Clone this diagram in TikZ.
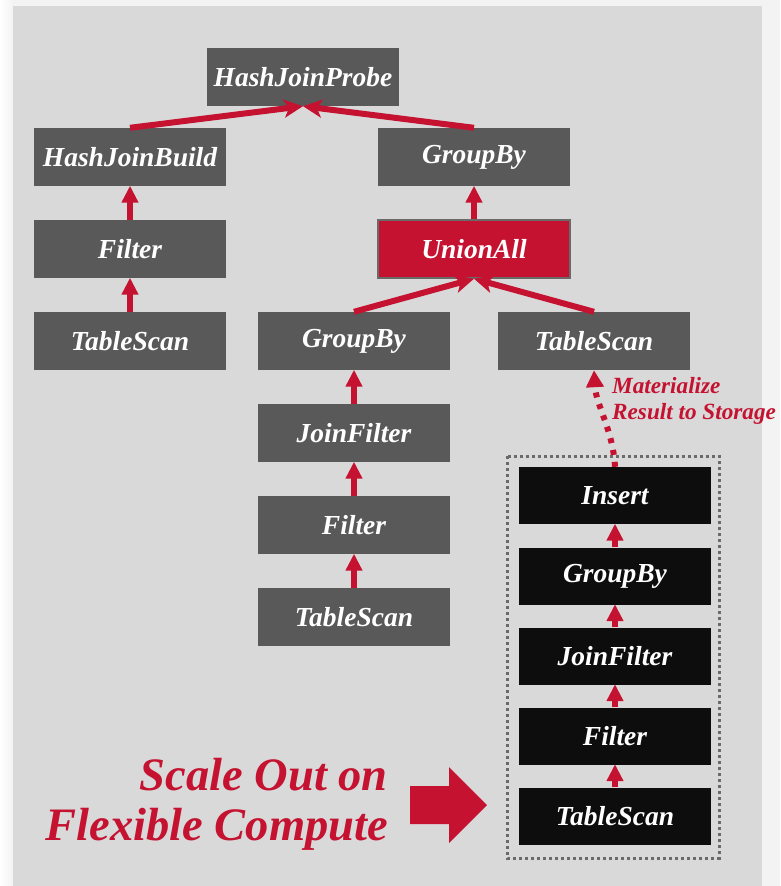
\documentclass[tikz,border=0pt]{standalone}
\usepackage{fontspec}
\setmainfont{Liberation Serif}
\usetikzlibrary{arrows.meta}
\definecolor{panel}{HTML}{D9D9D9}
\definecolor{opgray}{HTML}{595959}
\definecolor{accent}{HTML}{C41230}
\definecolor{opblack}{HTML}{0D0D0D}
\definecolor{outer}{HTML}{F3F3F3}
\definecolor{boxline}{HTML}{6A6A6A}
\begin{document}
\begin{tikzpicture}[x=1pt,y=-1pt,
  opbox/.style={minimum width=192pt, minimum height=58pt, inner sep=0pt, text=white,
    font=\fontsize{27.5}{30}\selectfont\bfseries\itshape, fill=opgray},
  unionbox/.style={opbox, fill=accent, draw=boxline, line width=1.5pt},
  blackbox/.style={opbox, fill=opblack, minimum height=57pt},
  uparrow/.style={draw=accent, line width=5.5pt, -{Triangle[length=17pt,width=16pt]}, shorten >=-0.5pt},
  diagarrow/.style={draw=accent, line width=6pt, -{Stealth[length=19pt,width=18pt,inset=5pt]}},
  dotarrow/.style={draw=accent, line width=6pt, dash pattern=on 5pt off 7pt, -{Triangle[length=17pt,width=17pt]}},
  matlabel/.style={text=accent, inner sep=0pt, font=\fontsize{23.2}{25}\selectfont\bfseries\itshape},
  bigtext/.style={text=accent, inner sep=0pt, font=\fontsize{46.5}{50}\selectfont\bfseries\itshape},
  dotbox/.style={draw=boxline, line width=3pt, dash pattern=on 3pt off 3pt}
]
\useasboundingbox (0,0) rectangle (780,886);
\fill[outer] (0,0) rectangle (780,886);
\shade[left color=white, right color=outer] (0,0) rectangle (13,886);
\fill[panel] (13,6) rectangle (762,886);

% top tree
\node[opbox] (hjp) at (303,77) {HashJoinProbe};
\node[opbox] (hjb) at (130,157) {HashJoinBuild};
\node[opbox] (gbtop) at (474,157) {GroupBy};
\node[opbox] (filtL) at (130,249) {Filter};
\node[unionbox] (ua) at (474,249) {UnionAll};
\node[opbox] (tsL) at (130,341) {TableScan};
\node[opbox] (gbmid) at (354,341) {GroupBy};
\node[opbox] (tsR) at (594,341) {TableScan};
\node[opbox] (jf) at (354,433) {JoinFilter};
\node[opbox] (filtM) at (354,525) {Filter};
\node[opbox] (tsM) at (354,617) {TableScan};

% black pipeline
\node[blackbox] (ins) at (615,495.5) {Insert};
\node[blackbox] (gbB) at (615,576) {GroupBy};
\node[blackbox] (jfB) at (615,656) {JoinFilter};
\node[blackbox] (filtB) at (615,736) {Filter};
\node[blackbox] (tsB) at (615,816) {TableScan};

\draw[dotbox] (507,456) rectangle (719,858);

% connectors
\draw[diagarrow] (hjb.north) -- (hjp.south);
\draw[diagarrow] (gbtop.north) -- (hjp.south);
\draw[uparrow] (filtL.north) -- (hjb.south);
\draw[uparrow] (tsL.north) -- (filtL.south);
\draw[uparrow] (ua.north) -- (gbtop.south);
\draw[diagarrow] (gbmid.north) -- (ua.south);
\draw[diagarrow] (tsR.north) -- (ua.south);
\draw[uparrow] (jf.north) -- (gbmid.south);
\draw[uparrow] (filtM.north) -- (jf.south);
\draw[uparrow] (tsM.north) -- (filtM.south);

\draw[uparrow] (gbB.north) -- (ins.south);
\draw[uparrow] (jfB.north) -- (gbB.south);
\draw[uparrow] (filtB.north) -- (jfB.south);
\draw[uparrow] (tsB.north) -- (filtB.south);

\draw[dotarrow] (ins.north) .. controls (613,430) and (596,405) .. (tsR.south);

\node[matlabel, anchor=base west] (mat1) at (612,393) {Materialize};
\node[matlabel, anchor=base west] (mat2) at (612,419) {Result to Storage};

\node[bigtext, anchor=base east] (scale1) at (388,790) {Scale Out on};
\node[bigtext, anchor=base east] (scale2) at (388,840) {Flexible Compute};

\fill[accent] (410,786) -- (449,786) -- (449,767) -- (487,805) -- (449,843) -- (449,824) -- (410,824) -- cycle;
\end{tikzpicture}
\end{document}
